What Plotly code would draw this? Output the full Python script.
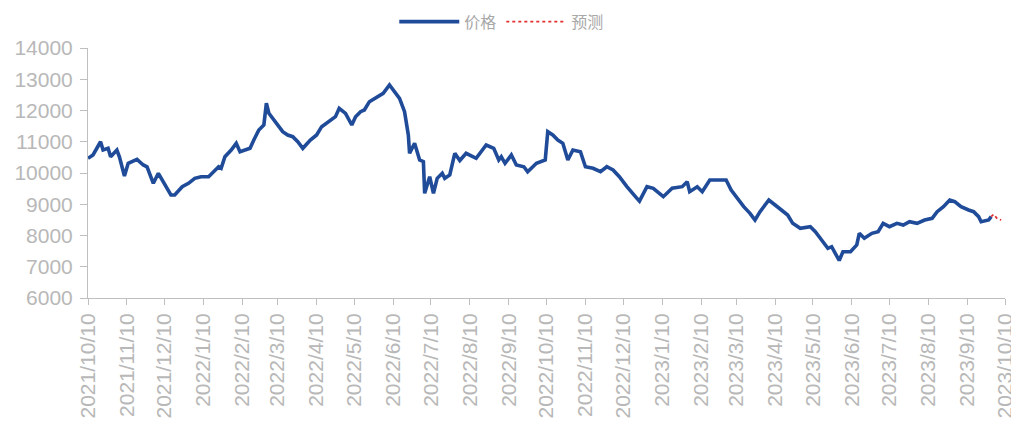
import plotly.graph_objects as go

price_dates = [
    "2021-10-10","2021-10-14","2021-10-20","2021-10-22","2021-10-26","2021-10-28","2021-11-02","2021-11-04",
    "2021-11-08","2021-11-11","2021-11-18","2021-11-23","2021-11-26","2021-12-01","2021-12-05","2021-12-10",
    "2021-12-15","2021-12-18","2021-12-24","2021-12-29","2022-01-03","2022-01-08","2022-01-14","2022-01-18",
    "2022-01-22","2022-01-24","2022-01-27","2022-02-01","2022-02-05","2022-02-08","2022-02-12","2022-02-16",
    "2022-02-19","2022-02-23","2022-02-27","2022-03-01","2022-03-03","2022-03-08","2022-03-14","2022-03-18",
    "2022-03-22","2022-03-26","2022-03-30","2022-04-05","2022-04-10","2022-04-14","2022-04-19","2022-04-25",
    "2022-04-28","2022-05-03","2022-05-08","2022-05-11","2022-05-15","2022-05-18","2022-05-22","2022-05-28",
    "2022-06-02","2022-06-07","2022-06-11","2022-06-15","2022-06-19","2022-06-22","2022-06-23","2022-06-27",
    "2022-07-01","2022-07-04","2022-07-05","2022-07-09","2022-07-12","2022-07-15","2022-07-19","2022-07-21",
    "2022-07-25","2022-07-29","2022-08-02","2022-08-07","2022-08-15","2022-08-23","2022-08-29","2022-09-02",
    "2022-09-04","2022-09-07","2022-09-12","2022-09-16","2022-09-22","2022-09-25","2022-10-02","2022-10-09",
    "2022-10-11","2022-10-15","2022-10-19","2022-10-23","2022-10-27","2022-10-31","2022-11-06","2022-11-10",
    "2022-11-16","2022-11-22","2022-11-27","2022-12-02","2022-12-07","2022-12-13","2022-12-21","2022-12-23",
    "2022-12-29","2023-01-03","2023-01-11","2023-01-18","2023-01-26","2023-01-30","2023-02-01","2023-02-07",
    "2023-02-11","2023-02-17","2023-02-24","2023-03-02","2023-03-06","2023-03-12","2023-03-16","2023-03-21",
    "2023-03-25","2023-03-29","2023-04-05","2023-04-10","2023-04-15","2023-04-20","2023-04-24","2023-04-30",
    "2023-05-08","2023-05-12","2023-05-17","2023-05-22","2023-05-25","2023-05-28","2023-05-31","2023-06-03",
    "2023-06-09","2023-06-14","2023-06-16","2023-06-20","2023-06-26","2023-07-01","2023-07-05","2023-07-10",
    "2023-07-16","2023-07-21","2023-07-26","2023-08-01","2023-08-07","2023-08-13","2023-08-17","2023-08-22",
    "2023-08-27","2023-08-31","2023-09-05","2023-09-11","2023-09-15","2023-09-19","2023-09-21","2023-09-27",
    "2023-09-29",
]
price_values = [
    10470,10576,11000,10736,10790,10520,10736,10520,
    9904,10310,10437,10256,10200,9670,9990,9670,
    9296,9296,9562,9670,9830,9882,9882,10040,
    10200,10150,10520,10736,10950,10680,10736,10790,
    11056,11376,11536,12230,11910,11650,11322,11216,
    11162,11002,10790,11056,11216,11482,11642,11802,
    12070,11910,11536,11802,11962,12016,12282,12442,
    12550,12816,12602,12390,11962,11216,10630,10950,
    10416,10362,9350,9882,9350,9830,9990,9830,
    9936,10630,10400,10630,10470,10896,10790,10416,
    10520,10310,10576,10256,10200,10040,10310,10416,
    11322,11216,11056,10950,10416,10736,10680,10200,
    10150,10040,10200,10096,9882,9562,9190,9100,
    9562,9510,9242,9510,9562,9722,9402,9562,
    9402,9776,9776,9776,9456,9136,8922,8710,
    8496,8762,9136,8976,8816,8656,8390,8230,
    8282,8122,7856,7590,7642,7400,7200,7482,
    7482,7696,8070,7910,8070,8122,8390,8282,
    8390,8336,8442,8390,8496,8550,8762,8922,
    9136,9082,8922,8816,8762,8602,8442,8496,
    8602,
]
forecast_dates = ["2023-09-29","2023-10-01","2023-10-04","2023-10-07"]
forecast_values = [8602, 8678, 8528, 8496]

tick_dates = [
    "2021-10-10","2021-11-10","2021-12-10","2022-01-10","2022-02-10","2022-03-10","2022-04-10",
    "2022-05-10","2022-06-10","2022-07-10","2022-08-10","2022-09-10","2022-10-10","2022-11-10",
    "2022-12-10","2023-01-10","2023-02-10","2023-03-10","2023-04-10","2023-05-10","2023-06-10",
    "2023-07-10","2023-08-10","2023-09-10","2023-10-10",
]
tick_labels = [d.replace("-0", "/").replace("-", "/") for d in tick_dates]

fig = go.Figure()
fig.add_trace(go.Scatter(x=price_dates, y=price_values, mode="lines", name="价格",
                         line=dict(color="#1f4b99", width=3.6)))
fig.add_trace(go.Scatter(x=forecast_dates, y=forecast_values, mode="lines", name="预测",
                         line=dict(color="#e03030", width=1.8, dash="dot")))

fig.update_layout(
    width=1011, height=422, autosize=False,
    margin=dict(l=80, r=14, t=40, b=132, autoexpand=False),
    paper_bgcolor="white", plot_bgcolor="white",
    font=dict(family="Liberation Sans, Noto Sans CJK SC", color="#b0b0b0", size=18),
    showlegend=True,
    legend=dict(orientation="h", x=0.334, xanchor="left", y=1.105, yanchor="middle",
                font=dict(family="Noto Sans CJK SC", size=16, color="#a8a8a8"),
                itemwidth=60, bgcolor="rgba(0,0,0,0)"),
    xaxis=dict(type="date", range=["2021-10-10", "2023-10-10"], automargin=False,
               tickmode="array", tickvals=tick_dates, ticktext=tick_labels,
               tickangle=-90, showgrid=False, zeroline=False,
               showline=True, linecolor="#bfbfbf", linewidth=1,
               ticks="outside", ticklen=6, tickcolor="#bfbfbf",
               tickfont=dict(size=21, color="#b8b8b8")),
    yaxis=dict(range=[6000, 14000], dtick=1000, tick0=6000, tickformat="d", automargin=False,
               showgrid=False, zeroline=False,
               showline=True, linecolor="#bfbfbf", linewidth=1,
               ticks="outside", ticklen=7, tickcolor="#bfbfbf", ticklabelstandoff=3,
               tickfont=dict(size=21, color="#b8b8b8")),
)

fig.write_html("out.html")
